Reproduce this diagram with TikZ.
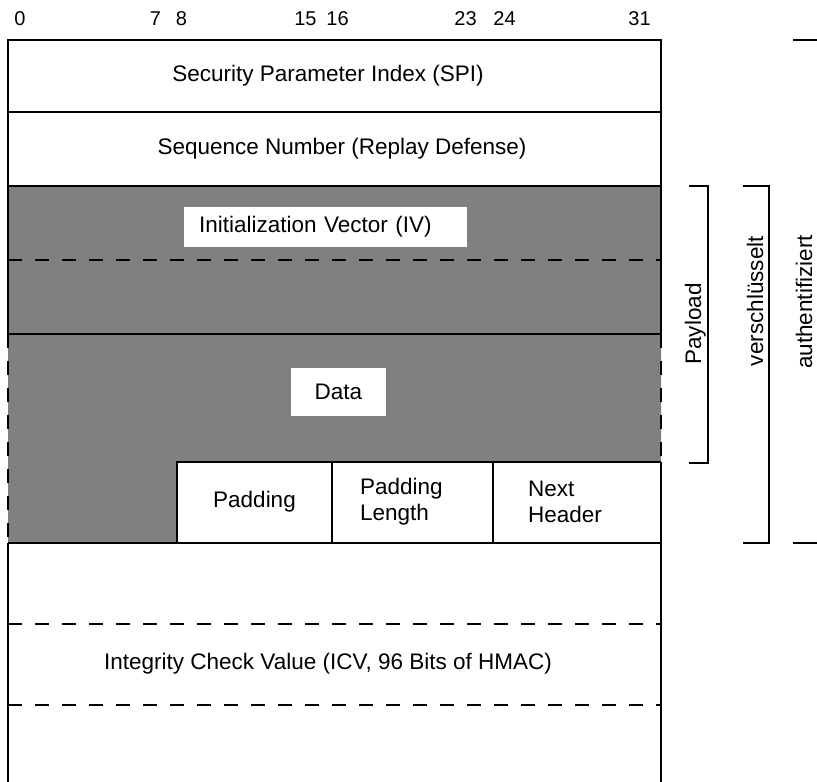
\documentclass[tikz,border=0pt]{standalone}
\usepackage{fontspec}
\setmainfont{Liberation Sans}
\definecolor{payloadgray}{RGB}{128,128,128}
\begin{document}
\begin{tikzpicture}[x=1pt,y=-1pt,line width=2pt,line join=miter,
  dashedline/.style={line width=2pt,dash pattern=on 14pt off 13pt},
  field/.style={font=\fontsize{22.5}{26}\selectfont,inner sep=0pt},
  bitno/.style={font=\fontsize{20}{22}\selectfont,inner sep=0pt},
  whitebox/.style={field,fill=white,draw=none},
  twoline/.style={field,align=left,anchor=west},
  sidelabel/.style={field,rotate=90,text depth=0pt},
  bracket/.style={line width=2pt}]
\useasboundingbox (0,0) rectangle (817,782);

% shaded area: IV and encrypted data
\fill[payloadgray] (8,186) -- (661,186) -- (661,462) -- (177,462)
  -- (177,543) -- (8,543) -- cycle;

% outer frame
\draw (8,334) -- (8,40) -- (661,40) -- (661,334);
\draw (8,543) -- (8,782);
\draw (661,462) -- (661,782);
\draw[dashedline] (8,334) -- (8,543);
\draw[dashedline] (661,334) -- (661,462);

% word boundaries
\foreach \yy in {112,186,334,543} \draw (8,\yy) -- (661,\yy);
\foreach \yy in {260,624,705} \draw[dashedline] (8,\yy) -- (661,\yy);

% trailer fields
\draw (177,543) -- (177,462) -- (661,462);
\draw (332,462) -- (332,543);
\draw (493,462) -- (493,543);

% bit positions
\node[bitno] (b0)  at (20,19)    {0};
\node[bitno] (b7)  at (155.5,19) {7};
\node[bitno] (b8)  at (181.5,19) {8};
\node[bitno] (b15) at (305.5,19) {15};
\node[bitno] (b16) at (337.5,19) {16};
\node[bitno] (b23) at (465.5,19) {23};
\node[bitno] (b24) at (504.5,19) {24};
\node[bitno] (b31) at (639.5,19) {31};

% field labels
\node[field] (spi) at (328,76) {Security Parameter Index (SPI)};
\node[field] (seq) at (342,149) {Sequence Number (Replay Defense)};
\node[whitebox,anchor=west,text width=253pt,align=left,inner xsep=15pt,
  minimum height=40pt] (iv) at (183,227) {Initialization Vector (IV)};
\node[whitebox,minimum width=95pt,minimum height=48pt] (data) at (338.5,392) {Data};
\node[field] (pad) at (254.5,502) {Padding};
\node[twoline] (padlen) at (359,502) {Padding\\Length};
\node[twoline] (nexthdr) at (527,502) {Next\\Header};
\node[field] (icv) at (328,664) {Integrity Check Value (ICV, 96 Bits of HMAC)};

% scope brackets
\coordinate (p1) at (689,186);
\coordinate (p2) at (708,186);
\coordinate (p3) at (708,463);
\coordinate (p4) at (689,463);
\draw[bracket] (p1) -- (p2) -- (p3) -- (p4);
\node[sidelabel] (payload) at (693,324) {Payload};

\coordinate (v1) at (743,186);
\coordinate (v2) at (769,186);
\coordinate (v3) at (769,543);
\coordinate (v4) at (743,543);
\draw[bracket] (v1) -- (v2) -- (v3) -- (v4);
\node[sidelabel] (enc) at (755,301) {verschlüsselt};

\coordinate (a1) at (793,40);
\coordinate (a2) at (820,40);
\coordinate (a3) at (793,543);
\coordinate (a4) at (820,543);
\draw[bracket] (a1) -- (a2);
\draw[bracket] (a3) -- (a4);
\node[sidelabel] (auth) at (804,302) {authentifiziert};
\end{tikzpicture}
\end{document}
